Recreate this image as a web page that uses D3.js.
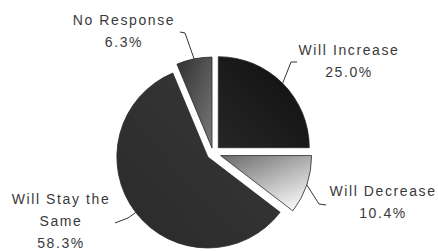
<!DOCTYPE html>
<html>
<head>
<meta charset="utf-8">
<script src="https://cdn.jsdelivr.net/npm/d3@7"></script>
<style>
  body { margin: 0; background: #fff; }
  text { font-family: "Liberation Sans", Arial, sans-serif; font-size: 14px; fill: #3a3a3a; letter-spacing: 1.6px; }
</style>
</head>
<body>
<script>
// data
const categories = ['Will Increase', 'Will Decrease', 'Will Stay the Same', 'No Response']
const values = [25.0, 10.4, 58.3, 6.3]
const labelLines = [['Will Increase'], ['Will Decrease'], ['Will Stay the', 'Same'], ['No Response']]

// layout
const width = 438
const height = 251
const center = [213, 153]
const radius = 91
const explode = [7.5, 8, 6.5, 5]
const labelAt = [[349, 50], [383, 191], [61, 199], [124, 20]]
const leaderElbow = [[291, 62], [319, 204], [128, 218], [185, 33]]
const leaderEnd = [[297, 62], [326, 205], [115, 223], [180, 32]]
const lineGap = 22

const svg = d3.select('body').append('svg').attr('width', width).attr('height', height)
const defs = svg.append('defs')

const grads = [
  {id: 'g0', x1: 0, y1: 1, x2: 1, y2: 0, stops: ['#262626', '#0e0e0e']},
  {id: 'g1', x1: 0, y1: 0, x2: 0.7, y2: 1, stops: ['#6a6a6a', '#f4f4f4']},
  {id: 'g2', x1: 1, y1: 0, x2: 0, y2: 1, stops: ['#383838', '#2a2a2a']},
  {id: 'g3', x1: 0, y1: 0, x2: 1, y2: 1, stops: ['#303030', '#7a7a7a']}
]
grads.forEach(g => {
  const lg = defs.append('linearGradient').attr('id', g.id)
    .attr('x1', g.x1).attr('y1', g.y1).attr('x2', g.x2).attr('y2', g.y2)
  lg.append('stop').attr('offset', 0).attr('stop-color', g.stops[0])
  lg.append('stop').attr('offset', 1).attr('stop-color', g.stops[1])
})

const pie = d3.pie().sort(null).value(d => d)
const arcs = pie(values)
const arc = d3.arc().innerRadius(0).outerRadius(radius)

const offset = (d, i) => {
  const a = (d.startAngle + d.endAngle) / 2
  return [center[0] + explode[i] * Math.sin(a), center[1] - explode[i] * Math.cos(a)]
}

const chartGroup = svg.append('g')

chartGroup.selectAll('path.slice')
  .data(arcs)
  .enter().append('path')
    .attr('class', 'slice')
    .attr('transform', (d, i) => 'translate(' + offset(d, i) + ')')
    .attr('d', arc)
    .attr('fill', (d, i) => 'url(#g' + i + ')')
    .attr('stroke', '#2a2a2a')
    .attr('stroke-width', 0.8)

// leader lines
chartGroup.selectAll('path.leader')
  .data(arcs)
  .enter().append('path')
    .attr('class', 'leader')
    .attr('fill', 'none')
    .attr('stroke', '#333')
    .attr('stroke-width', 1)
    .attr('d', (d, i) => {
      const o = offset(d, i)
      const a = (d.startAngle + d.endAngle) / 2
      const p = [o[0] + radius * Math.sin(a), o[1] - radius * Math.cos(a)]
      return 'M' + p + 'L' + leaderElbow[i] + 'L' + leaderEnd[i]
    })

// labels
arcs.forEach((d, i) => {
  const lines = labelLines[i].concat([d.data.toFixed(1) + '%'])
  const t = svg.append('text')
    .attr('text-anchor', 'middle')
    .attr('dominant-baseline', 'central')
  lines.forEach((s, k) => {
    t.append('tspan')
      .attr('x', labelAt[i][0])
      .attr('y', labelAt[i][1] + k * lineGap)
      .text(s)
  })
})
</script>
</body>
</html>
